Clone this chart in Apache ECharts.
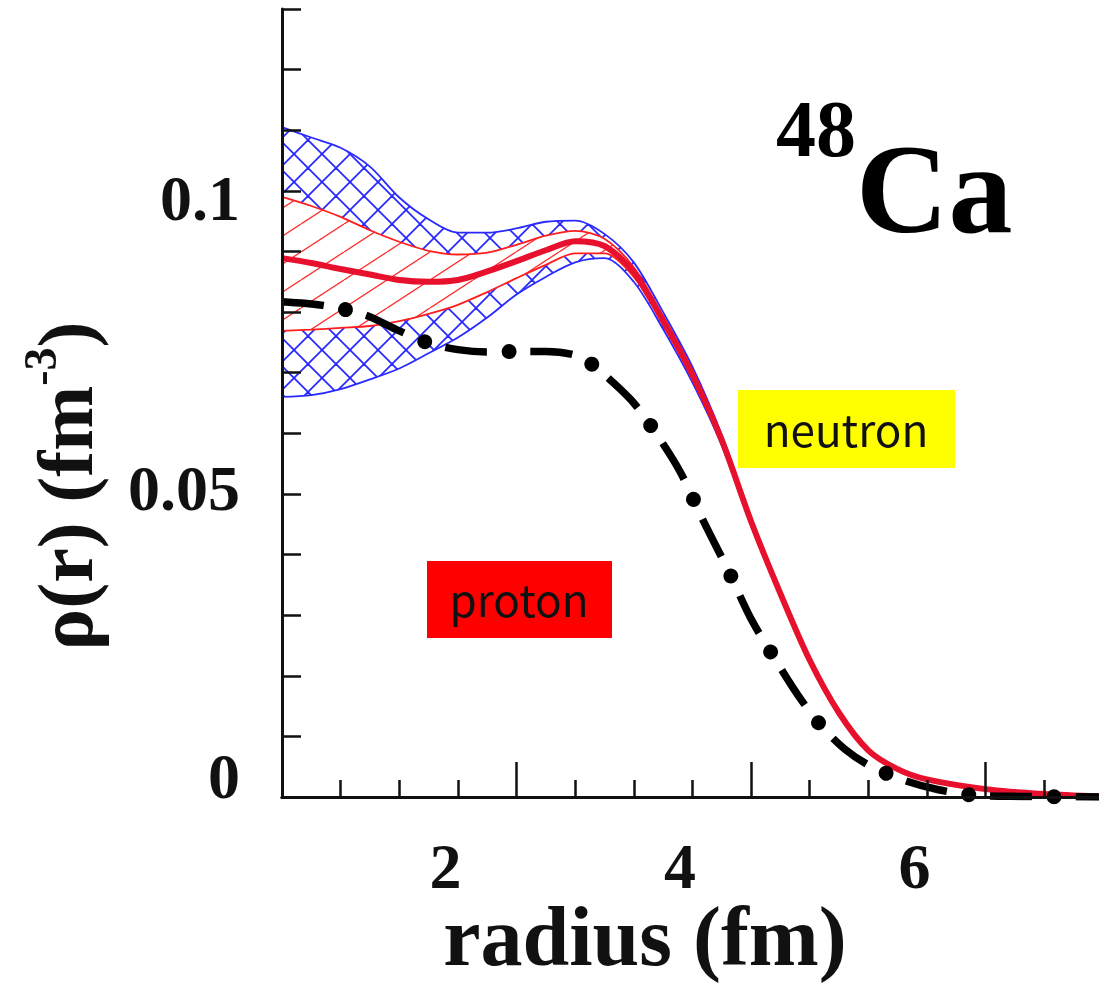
<!DOCTYPE html>
<html>
<head>
<meta charset="utf-8">
<title>48Ca density</title>
<script src="https://cdn.jsdelivr.net/npm/echarts@6/dist/echarts.min.js"></script>
<style>
  html, body { margin: 0; padding: 0; background: #fff; }
  #chart { width: 1099px; height: 987px; }
</style>
</head>
<body>
<div id="chart"></div>
<script>
// radius grid (fm) shared by the neutron curves
const radius = [0, 0.25, 0.5, 0.75, 1.0, 1.25, 1.5, 1.75, 2.0, 2.25, 2.5, 2.75, 3.0, 3.25, 3.5, 3.75, 4.0, 4.25, 4.5, 4.75, 5.0, 5.25, 5.5, 6.0, 6.5, 7.0];

// neutron: central curve (thick red)
const neutronMid = [0.0889, 0.0881, 0.0871, 0.0862, 0.0853, 0.0850, 0.0853, 0.0867, 0.0884, 0.0902, 0.0917, 0.0909, 0.0866, 0.0786, 0.0697, 0.0589, 0.0455, 0.0336, 0.0226, 0.0139, 0.0077, 0.0046, 0.0029, 0.0013, 0.0005, 0.0001];
// neutron: red hatched band
const redHi = [0.0990, 0.0975, 0.0957, 0.0935, 0.0916, 0.0901, 0.0895, 0.0898, 0.0911, 0.0926, 0.0934, 0.0921, 0.0874, 0.0793, 0.0704, 0.0594, 0.0459, 0.0339, 0.0228, 0.0141, 0.0078, 0.0047, 0.0030, 0.0013, 0.0005, 0.0001];
const redLo = [0.0769, 0.0771, 0.0774, 0.0777, 0.0785, 0.0797, 0.0812, 0.0833, 0.0856, 0.0878, 0.0897, 0.0897, 0.0858, 0.0779, 0.0690, 0.0584, 0.0451, 0.0333, 0.0224, 0.0137, 0.0076, 0.0045, 0.0028, 0.0013, 0.0005, 0.0001];
// neutron: blue cross-hatched band
const blueHi = [0.1105, 0.1088, 0.1071, 0.1040, 0.0989, 0.0953, 0.0931, 0.0931, 0.0938, 0.0949, 0.0951, 0.0929, 0.0882, 0.0800, 0.0710, 0.0598, 0.0462, 0.0341, 0.0230, 0.0142, 0.0079, 0.0047, 0.0030, 0.0013, 0.0005, 0.0001];
const blueLo = [0.0660, 0.0663, 0.0673, 0.0689, 0.0707, 0.0732, 0.0758, 0.0791, 0.0829, 0.0858, 0.0882, 0.0889, 0.0850, 0.0772, 0.0684, 0.0580, 0.0448, 0.0331, 0.0222, 0.0136, 0.0075, 0.0045, 0.0028, 0.0013, 0.0005, 0.0001];

// proton (black dash-dot)
const protonR = [0, 0.35, 0.7, 1.0, 1.25, 1.5, 1.75, 2.0, 2.25, 2.5, 2.65, 2.8, 3.0, 3.2, 3.4, 3.6, 3.8, 4.0, 4.2, 4.4, 4.6, 4.8, 5.0, 5.3, 5.6, 5.9, 6.3, 7.0];
const protonRho = [0.0817, 0.0811, 0.0796, 0.0769, 0.0749, 0.0738, 0.0734, 0.0735, 0.0735, 0.0729, 0.0713, 0.0688, 0.0650, 0.0597, 0.0535, 0.0453, 0.0376, 0.0294, 0.0229, 0.0168, 0.0117, 0.0079, 0.0053, 0.0028, 0.0012, 0.0003, 0.0001, 0.0000];

const xTickLabels = [2, 4, 6];
const yTickLabels = [0, 0.05, 0.1];

const SERIF = '"Liberation Serif", "Times New Roman", serif';
const SANS_JP = '"Noto Sans CJK JP", "Noto Sans", sans-serif';
const INK = '#111';

// hatch tiles for the bands (white backed so each fill hides what is under it)
function hatchTile(kind) {
  const c = document.createElement('canvas');
  const g = c.getContext('2d');
  if (kind === 'cross') {
    const s = 28;
    c.width = s; c.height = s;
    g.fillStyle = '#fff';
    g.fillRect(0, 0, s, s);
    g.strokeStyle = '#2828ff';
    g.lineWidth = 1.8;
    for (const k of [-1, 0, 1]) {
      g.beginPath(); g.moveTo(k * s, 0); g.lineTo(k * s + s, s); g.stroke();
      g.beginPath(); g.moveTo(k * s, s); g.lineTo(k * s + s, 0); g.stroke();
    }
  } else {
    const w = 43, h = 28;
    c.width = w; c.height = h;
    g.fillStyle = '#fff';
    g.fillRect(0, 0, w, h);
    g.strokeStyle = '#ff2a2a';
    g.lineWidth = 1.3;
    for (const k of [-1, 0, 1]) {
      g.beginPath(); g.moveTo(k * w, h); g.lineTo(k * w + w, 0); g.stroke();
    }
  }
  return c;
}

const SMOOTH = 0.3;
const pairs = (xs, ys) => xs.map((x, i) => [x, ys[i]]);

// area under a curve, painted top-down so later fills mask the earlier ones
function fillUnder(ys, color) {
  return {
    type: 'line', data: pairs(radius, ys), symbol: 'none', smooth: SMOOTH, silent: true,
    lineStyle: { width: 0, opacity: 0 },
    areaStyle: { color, opacity: 1, origin: 'start' }
  };
}

function curve(ys, color, width) {
  return {
    type: 'line', data: pairs(radius, ys), symbol: 'none', smooth: SMOOTH, silent: true,
    lineStyle: { color, width }
  };
}

const crossTile = { image: hatchTile('cross'), repeat: 'repeat' };
const redTile = { image: hatchTile('single'), repeat: 'repeat' };

const chart = echarts.init(document.getElementById('chart'));

chart.setOption({
  animation: false,
  backgroundColor: '#fff',
  title: {
    text: '{sup|48}{big|Ca}',
    left: 776,
    top: 95,
    padding: 0,
    textStyle: {
      rich: {
        sup: { fontSize: 80, fontWeight: 'bold', fontFamily: SERIF, color: '#000', lineHeight: 90, verticalAlign: 'top' },
        big: { fontSize: 128, fontWeight: 'bold', fontFamily: SERIF, color: '#000', lineHeight: 168, verticalAlign: 'bottom' }
      }
    }
  },
  grid: { left: 282, width: 938, top: 9, height: 788, containLabel: false, outerBoundsMode: 'none' },
  xAxis: [
    {
      type: 'value', min: 0, max: 8, interval: 2, z: 10,
      axisLine: { onZero: false, lineStyle: { color: INK, width: 3 } },
      axisTick: { inside: true, length: 35, lineStyle: { color: INK, width: 2.5 } },
      minorTick: { show: true, splitNumber: 4, length: 17, lineStyle: { color: INK, width: 2.5 } },
      splitLine: { show: false },
      axisLabel: {
        formatter: v => (xTickLabels.includes(v) ? String(v) : ''),
        fontFamily: SERIF, fontWeight: 'bold', fontSize: 64, color: INK,
        margin: 42, padding: [0, 142, 0, 0]
      },
      name: 'radius (fm)',
      nameLocation: 'middle',
      nameGap: 104,
      nameMoveOverlap: false,
      nameTextStyle: { fontFamily: SERIF, fontWeight: 'bold', fontSize: 84, color: INK, padding: [0, 212, 0, 0] }
    },
    {
      type: 'value', position: 'top', min: 0, max: 8, z: 10,
      axisLine: { lineStyle: { color: INK, width: 3 } },
      axisTick: { show: false }, axisLabel: { show: false }, splitLine: { show: false }
    }
  ],
  yAxis: {
    type: 'value', min: 0, max: 0.13, interval: 0.01, z: 10,
    axisLine: { onZero: false, lineStyle: { color: INK, width: 3 } },
    axisTick: { inside: true, length: 19, lineStyle: { color: INK, width: 2.5 } },
    splitLine: { show: false },
    axisLabel: {
      margin: 42,
      fontFamily: SERIF, fontWeight: 'bold', fontSize: 64, color: INK,
      formatter: v => {
        const r = Math.round(v * 100) / 100;
        if (!yTickLabels.includes(r)) return '';
        if (r === 0) return '{lo|0}';
        if (r === 0.05) return '{mid|0.05}';
        return '{hi|0.1}';
      },
      rich: {
        lo: { fontFamily: SERIF, fontWeight: 'bold', fontSize: 64, color: INK, padding: [0, 0, 31, 0] },
        mid: { fontFamily: SERIF, fontWeight: 'bold', fontSize: 64, color: INK },
        hi: { fontFamily: SERIF, fontWeight: 'bold', fontSize: 64, color: INK, padding: [26, 0, 0, 0] }
      }
    },
    name: '{a|ρ(r) (fm}{s|-3}{a|)}',
    nameLocation: 'middle',
    nameRotate: 90,
    nameGap: 171,
    nameMoveOverlap: false,
    nameTextStyle: {
      padding: [0, 166, 0, 0],
      rich: {
        a: { fontFamily: SERIF, fontWeight: 'bold', fontSize: 78, color: INK, lineHeight: 90, verticalAlign: 'bottom' },
        s: { fontFamily: SERIF, fontWeight: 'bold', fontSize: 46, color: INK, lineHeight: 50, verticalAlign: 'top' }
      }
    }
  },
  series: [
    fillUnder(blueHi, crossTile),
    fillUnder(redHi, redTile),
    fillUnder(redLo, crossTile),
    fillUnder(blueLo, '#fff'),
    curve(blueHi, '#2a2aff', 1.8),
    curve(blueLo, '#2a2aff', 1.8),
    curve(redHi, '#ff1e1e', 1.8),
    curve(redLo, '#ff1e1e', 1.8),
    curve(neutronMid, '#e8112d', 6),
    // proton: dashes
    {
      type: 'line', data: pairs(protonR, protonRho), symbol: 'none', smooth: SMOOTH, silent: true,
      lineStyle: { color: '#000', width: 7.5, type: [42, 43.5], cap: 'butt' }
    },
    // proton: dots riding the same path
    {
      type: 'line', data: pairs(protonR, protonRho), symbol: 'none', smooth: SMOOTH, silent: true,
      lineStyle: { color: '#000', width: 15, type: [0.01, 85.49], dashOffset: 21.5, cap: 'round' }
    }
  ],
  graphic: [
    {
      type: 'group', left: 738, top: 390, z: 100,
      children: [
        { type: 'rect', z: 100, shape: { x: 0, y: 0, width: 217, height: 78 }, style: { fill: '#ffff00' } },
        { type: 'text', z: 101, x: 108, y: 40, style: { text: 'neutron', fontFamily: SANS_JP, fontSize: 44, fill: '#111', align: 'center', verticalAlign: 'middle' } }
      ]
    },
    {
      type: 'group', left: 427, top: 561, z: 100,
      children: [
        { type: 'rect', z: 100, shape: { x: 0, y: 0, width: 185, height: 77 }, style: { fill: '#ff0000' } },
        { type: 'text', z: 101, x: 92, y: 39, style: { text: 'proton', fontFamily: SANS_JP, fontSize: 44, fill: '#111', align: 'center', verticalAlign: 'middle' } }
      ]
    }
  ]
});
</script>
</body>
</html>
